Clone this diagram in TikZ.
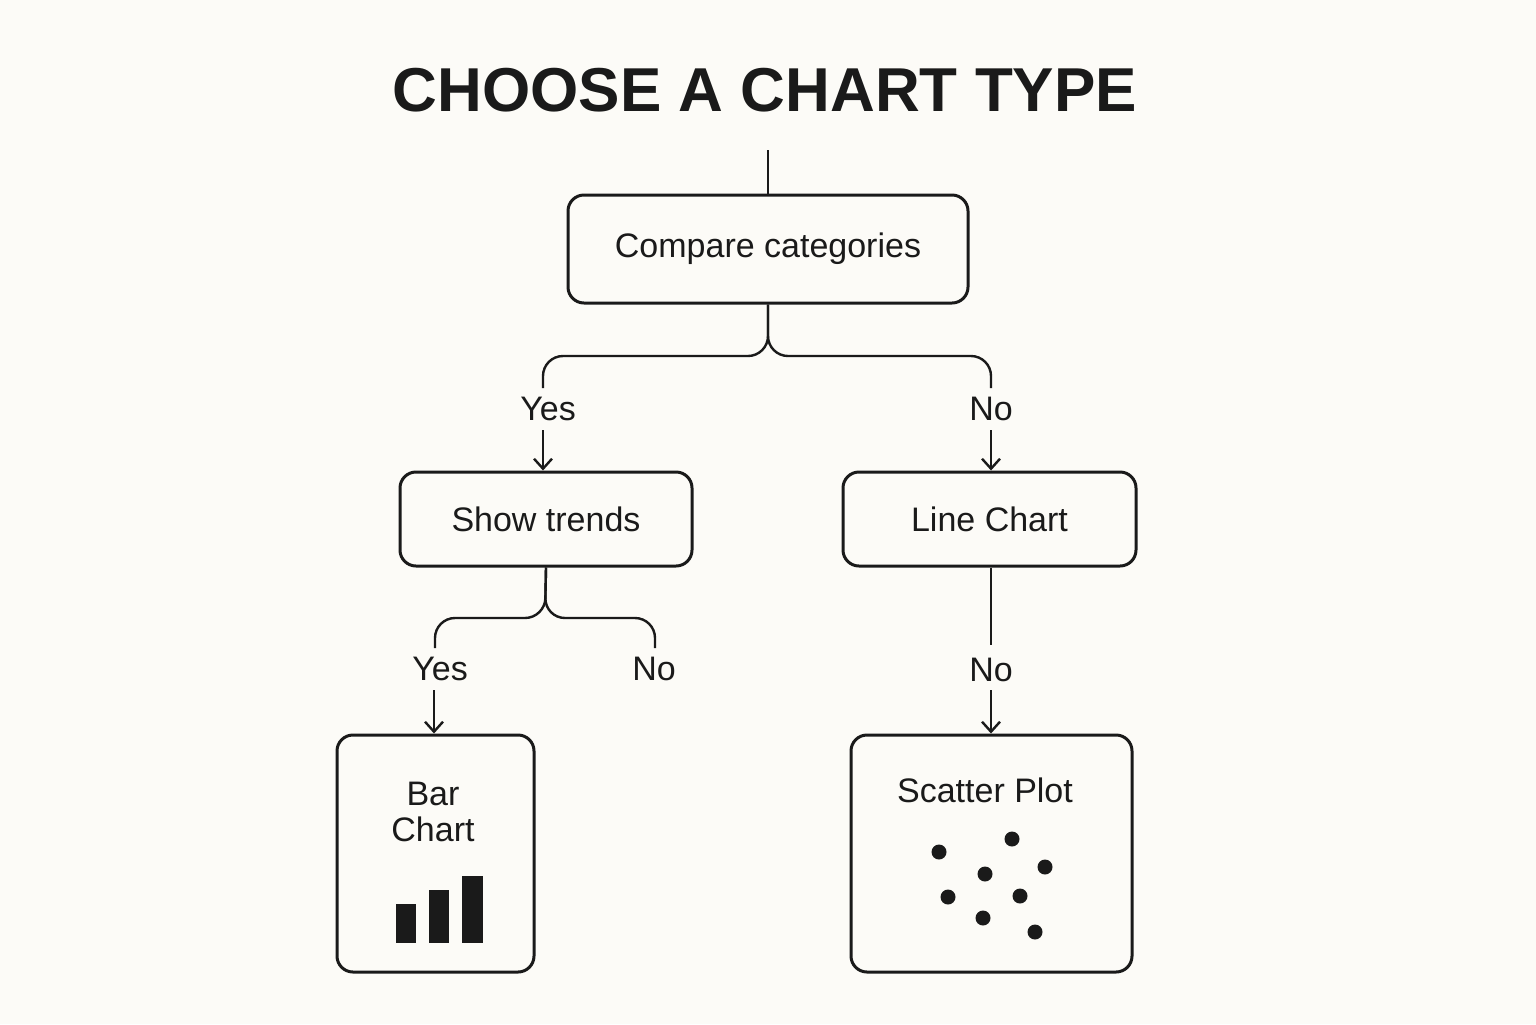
\documentclass[tikz,border=0pt]{standalone}
\usepackage{fontspec}
\setmainfont{Liberation Sans}
\usetikzlibrary{arrows.meta}
\definecolor{bg}{HTML}{FCFBF7}
\definecolor{ink}{HTML}{1A1A1A}
\begin{document}
\begin{tikzpicture}[x=0.5pt,y=-0.5pt,
  box/.style={draw=ink,line width=1.5pt,rounded corners=8pt,inner sep=0pt},
  lbl/.style={font=\fontsize{17}{20}\selectfont,text=ink},
  conn/.style={draw=ink,line width=1.2pt,rounded corners=10pt},
  arr/.style={draw=ink,line width=1.2pt,-{Straight Barb[length=5pt,width=9pt]}}]
\fill[bg] (0,0) rectangle (1536,1024);
\useasboundingbox (0,0) rectangle (1536,1024);
\node[font=\fontsize{31}{36}\selectfont\bfseries,text=ink] (title) at (765,90) {CHOOSE A CHART TYPE};
% boxes
\node[box,minimum width=200pt,minimum height=54pt,lbl] (cmp) at (768,249) {Compare categories};
\node[box,minimum width=146pt,minimum height=47pt,lbl] (st) at (546,519) {Show trends};
\node[box,minimum width=146.5pt,minimum height=47pt,lbl] (lc) at (989.5,519) {Line Chart};
\node[box,minimum width=98.5pt,minimum height=118.5pt] (bc) at (435.5,853.5) {};
\node[box,minimum width=140.5pt,minimum height=118.5pt] (sp) at (991.5,853.5) {};
\node[lbl,align=center] (bct) at (433,812) {Bar\\[-2pt]Chart};
\node[lbl] (spt) at (985,790) {Scatter Plot};
% bars
\fill[ink] (396,904) rectangle (416,943);
\fill[ink] (429,890) rectangle (449,943);
\fill[ink] (462,876) rectangle (483,943);
\foreach \p in {(939,852),(1012,839),(1045,867),(985,874),(948,897),(1020,896),(983,918),(1035,932)}
  \fill[ink] \p circle[radius=7.5];
% labels
\node[lbl] (y1) at (548,409) {Yes};
\node[lbl] (n1) at (991,409) {No};
\node[lbl] (y2) at (440,669) {Yes};
\node[lbl] (n2) at (654,669) {No};
\node[lbl] (n3) at (991,670) {No};
% connectors
\coordinate (top) at (768,150);
\draw[ink,line width=1.2pt] (top) -- (cmp.north);
\coordinate (j1) at (768,356);
\draw[conn] (cmp.south) -- (j1) -| (543,388);
\draw[conn] (cmp.south) -- (j1) -| (991,388);
\draw[arr] (543,430) -- (st.north -| 543,0);
\draw[arr] (991,430) -- (lc.north -| 991,0);
\coordinate (j2) at (545,618);
\draw[conn] (st.south) -- (j2) -| (435,648);
\draw[conn] (st.south) -- (j2) -| (655,648);
\draw[arr] (434,690) -- (bc.north -| 434,0);
\draw[ink,line width=1.2pt] (lc.south -| 991,0) -- (991,645);
\draw[arr] (991,690) -- (sp.north -| 991,0);
\end{tikzpicture}
\end{document}
